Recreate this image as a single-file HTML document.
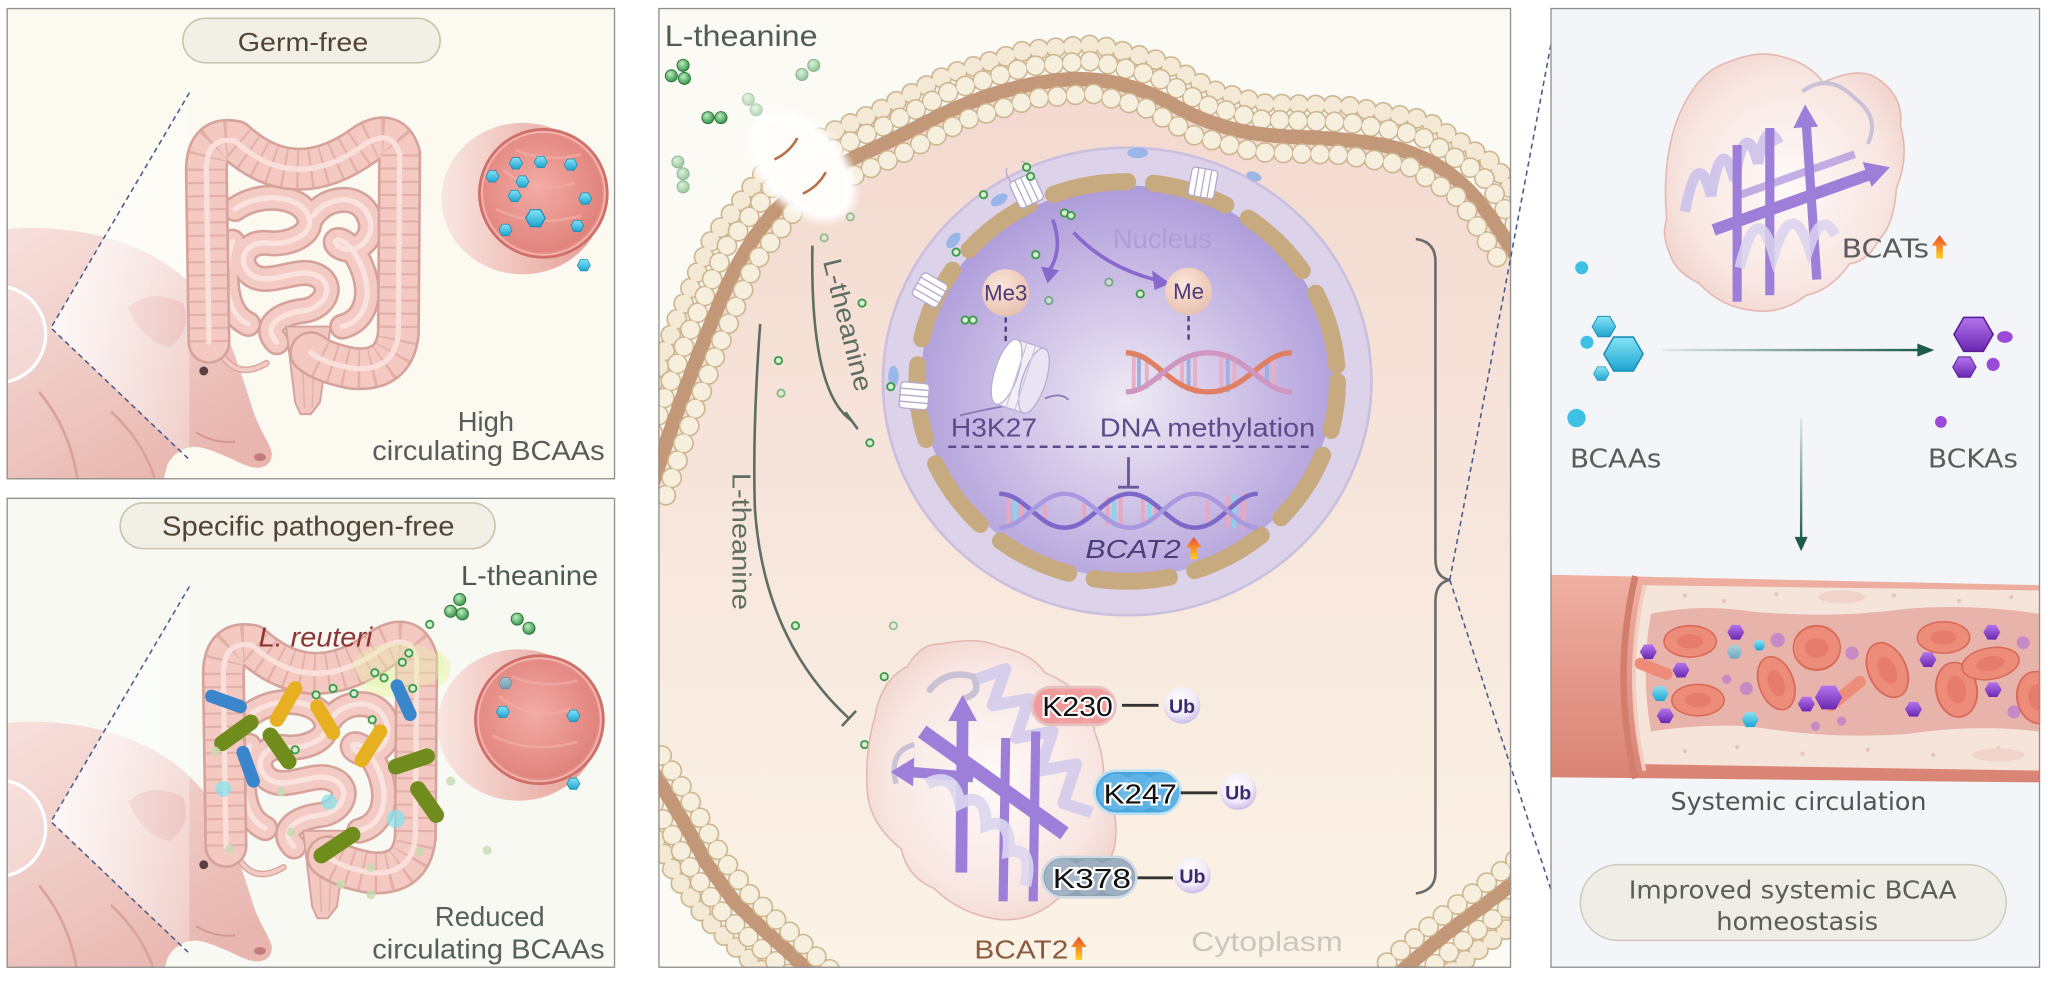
<!DOCTYPE html>
<html><head><meta charset="utf-8"><title>L-theanine and BCAA homeostasis</title>
<style>
html,body{margin:0;padding:0;background:#ffffff;width:2048px;height:981px;overflow:hidden;}
svg{display:block;}
text{font-family:"Liberation Sans",Arial,sans-serif;}
.dv{font-family:"DejaVu Sans","Liberation Sans",sans-serif;}
</style></head><body>
<svg xmlns="http://www.w3.org/2000/svg" width="2048" height="981" viewBox="0 0 1568 751">
<defs>
 <clipPath id="cL1"><rect x="5" y="6" width="466" height="361"/></clipPath>
 <clipPath id="cL2"><rect x="5" y="381" width="466" height="360"/></clipPath>
 <clipPath id="cC"><rect x="504" y="6" width="653" height="735"/></clipPath>
 <clipPath id="cR"><rect x="1187" y="6" width="375" height="735"/></clipPath>
 <filter id="soft" x="-30%" y="-30%" width="160%" height="160%"><feGaussianBlur stdDeviation="3"/></filter>
 <linearGradient id="pigG" x1="0" y1="0" x2="0.6" y2="1"><stop offset="0" stop-color="#f7e1dd"/><stop offset="1" stop-color="#e8b6af"/></linearGradient>
 <linearGradient id="wedgeG" x1="0" y1="0" x2="1" y2="0"><stop offset="0" stop-color="#ffffff" stop-opacity="0.85"/><stop offset="1" stop-color="#ffffff" stop-opacity="0.3"/></linearGradient>
 <radialGradient id="lumG" cx="0.45" cy="0.45" r="0.6"><stop offset="0" stop-color="#f2aca5"/><stop offset="1" stop-color="#e0807a"/></radialGradient>
 <linearGradient id="tubeG" x1="0" y1="0" x2="1" y2="0"><stop offset="0" stop-color="#f9e6e1"/><stop offset="0.5" stop-color="#efc0b8"/><stop offset="1" stop-color="#e49a92"/></linearGradient>
 <linearGradient id="hexCG" x1="0" y1="0" x2="0" y2="1"><stop offset="0" stop-color="#86e4f6"/><stop offset="1" stop-color="#1ea4d0"/></linearGradient>
 <linearGradient id="hexPG" x1="0" y1="0" x2="0" y2="1"><stop offset="0" stop-color="#b275ec"/><stop offset="1" stop-color="#6a28b2"/></linearGradient>
 <radialGradient id="grn" cx="0.4" cy="0.35" r="0.7"><stop offset="0" stop-color="#bdeec0"/><stop offset="1" stop-color="#2f8d45"/></radialGradient>
 <linearGradient id="upA" x1="0" y1="0" x2="0" y2="1"><stop offset="0" stop-color="#ee4a2e"/><stop offset="1" stop-color="#ffd21e"/></linearGradient>
 <linearGradient id="cellG" x1="0" y1="0" x2="0" y2="1"><stop offset="0" stop-color="#f3d9cf"/><stop offset="0.5" stop-color="#f7e6dc"/><stop offset="1" stop-color="#fbf4e6"/></linearGradient>
 <radialGradient id="nucG" cx="0.5" cy="0.55" r="0.55"><stop offset="0" stop-color="#efeaf4"/><stop offset="0.5" stop-color="#cfc3e7"/><stop offset="1" stop-color="#ad9bda"/></radialGradient>
 <radialGradient id="protG" cx="0.5" cy="0.5" r="0.6"><stop offset="0" stop-color="#fefaf8"/><stop offset="0.7" stop-color="#f8e6e2"/><stop offset="1" stop-color="#f0d0c8"/></radialGradient>
 <radialGradient id="meG" cx="0.4" cy="0.35" r="0.7"><stop offset="0" stop-color="#fbe6da"/><stop offset="1" stop-color="#e8c0ae"/></radialGradient>
 <radialGradient id="ubG" cx="0.45" cy="0.35" r="0.7"><stop offset="0" stop-color="#ffffff"/><stop offset="0.6" stop-color="#f1ecf8"/><stop offset="1" stop-color="#c4b2e6"/></radialGradient>
 <linearGradient id="arrH" gradientUnits="userSpaceOnUse" x1="1273" y1="0" x2="1470" y2="0"><stop offset="0" stop-color="#1d5c48" stop-opacity="0.08"/><stop offset="1" stop-color="#1d5c48"/></linearGradient>
 <linearGradient id="arrV" gradientUnits="userSpaceOnUse" x1="0" y1="320" x2="0" y2="415"><stop offset="0" stop-color="#1d5c48" stop-opacity="0.08"/><stop offset="1" stop-color="#1d5c48"/></linearGradient>
 <linearGradient id="wallG" x1="0" y1="0" x2="0" y2="1"><stop offset="0" stop-color="#eeb0a2"/><stop offset="0.5" stop-color="#e4988a"/><stop offset="1" stop-color="#d98373"/></linearGradient>
 <polygon id="hx" points="5,0 2.5,4.33 -2.5,4.33 -5,0 -2.5,-4.33 2.5,-4.33"/>
 <path id="si" d="M180,160 C200,146 230,150 236,165 C242,180 220,188 205,186 C188,184 180,200 192,210 C205,220 226,205 240,210 C258,216 250,236 232,238 C214,240 200,250 212,262 M240,165 C250,150 275,148 282,165 C290,182 272,195 262,190 C250,185 262,175 275,200 C286,222 282,245 262,250 M178,185 C170,210 172,240 190,248"/>
 <path id="colon" d="M160,262 L158,130 Q158,104 180,108 Q226,150 280,110 Q300,98 306,118 L305,255 Q302,285 270,282 Q248,278 238,270"/>
 <g id="gut" fill="none" stroke-linecap="round" stroke-linejoin="round">
  <use href="#si" stroke="#d6a39b" stroke-width="20"/>
  <use href="#si" stroke="#f3cbc4" stroke-width="16"/>
  <use href="#si" stroke="#fae3de" stroke-width="4"/>
  <path d="M219,250 L253,250 L245,308 L238,317 L230,317 L226,308 Z" fill="#f2c7bf" stroke="#d6a39b" stroke-width="1.5"/>
  <path d="M231,258 L233,312 M241,258 L239,312" stroke="#e0b0a8" stroke-width="1"/>
  <path d="M168,268 Q180,292 204,278" stroke="#d9a29b" stroke-width="5"/>
  <path d="M168,268 Q180,292 204,278" stroke="#f3cbc4" stroke-width="3"/>
  <use href="#colon" stroke="#d6a39b" stroke-width="33"/>
  <use href="#colon" stroke="#f3c9c2" stroke-width="29"/>
  <use href="#colon" stroke="#e3b0a8" stroke-width="29" stroke-dasharray="1.6 8.5" stroke-linecap="butt"/>
  <use href="#colon" stroke="#f9e0db" stroke-width="4"/>
 </g>
 <g id="pig">
  <path d="M0,176 C30,172 70,176 100,188 C130,200 150,218 165,240 C178,262 186,290 194,315 C199,330 206,338 208,346 C209,354 203,359 195,358 C187,357 180,352 172,349 C165,346 158,343 150,342 C140,342 132,348 128,356 L124,372 L0,372 Z" fill="url(#pigG)"/>
  <path d="M98,236 Q115,220 140,232 Q148,252 130,266 Q110,262 98,236 Z" fill="#e3a9a5" opacity="0.8"/>
  <circle cx="156" cy="284" r="3.4" fill="#5b3e3e"/>
  <ellipse cx="199" cy="350" rx="4.5" ry="3" fill="#c27c7c"/>
  <path d="M150,331 Q165,340 180,338" stroke="#d49890" stroke-width="1.5" fill="none"/>
  <path d="M30,300 Q55,330 60,372" stroke="#d9a39c" stroke-width="2" fill="none"/>
  <path d="M85,315 Q112,340 120,372" stroke="#d9a39c" stroke-width="2" fill="none"/>
  <path d="M39,251 L145,71 L145,351 Z" fill="url(#wedgeG)"/>
  <path d="M145,71 L39,251 L144,351" stroke="#4c5c8e" stroke-width="1.2" stroke-dasharray="4 3" fill="none"/>
  <circle cx="-2" cy="256" r="37" fill="#ffffff" fill-opacity="0.2" stroke="#ffffff" stroke-width="2.5"/>
 </g>
 <g id="vx">
  <ellipse cx="400" cy="152" rx="62" ry="58" fill="url(#tubeG)"/>
  <circle cx="416" cy="148" r="49" fill="#e58f88" stroke="#cf6f69" stroke-width="2"/>
  <circle cx="416" cy="148" r="45" fill="url(#lumG)"/>
  <circle cx="416" cy="148" r="47" fill="none" stroke="#f3b8b1" stroke-width="1.2"/>
  <path d="M385,130 Q410,150 440,140 M380,160 Q410,175 445,165 M395,115 Q420,125 445,118" stroke="#f2aca6" stroke-width="2" fill="none" opacity="0.7"/>
 </g>
 <g id="gdot"><circle r="2.8" fill="#d6f0d0" stroke="#3a9a4a" stroke-width="1.4"/></g>
 <g id="gmol"><circle r="4.6" fill="url(#grn)" stroke="#2c7a3c" stroke-width="0.8"/></g>
 <g id="rbc"><ellipse rx="20" ry="12" fill="#ee8c7a" stroke="#d86a5a" stroke-width="1.2"/><ellipse rx="10" ry="5.5" fill="#de6f60" opacity="0.55"/></g>
</defs>

<!-- ===== LEFT TOP PANEL ===== -->
<g clip-path="url(#cL1)">
 <rect x="5" y="6" width="466" height="361" fill="#fbf9f0"/>
 <use href="#pig"/>
 <use href="#gut"/>
 <use href="#vx"/>
 <g fill="url(#hexCG)" stroke="#1b8cb5" stroke-width="0.6">
  <use href="#hx" transform="translate(377,135)"/>
  <use href="#hx" transform="translate(395,125)"/>
  <use href="#hx" transform="translate(414,124)"/>
  <use href="#hx" transform="translate(437,126)"/>
  <use href="#hx" transform="translate(400,139)"/>
  <use href="#hx" transform="translate(394,150)"/>
  <use href="#hx" transform="translate(448,152)"/>
  <use href="#hx" transform="translate(410,167) scale(1.5)"/>
  <use href="#hx" transform="translate(387,176)"/>
  <use href="#hx" transform="translate(442,173)"/>
  <use href="#hx" transform="translate(447,203)"/>
 </g>
 <rect x="140" y="14" width="197" height="34" rx="17" fill="#f2f0e6" stroke="#c9c4ae" stroke-width="1.2"/>
 <text x="232" y="39" font-size="20" fill="#524434" text-anchor="middle" textLength="100" lengthAdjust="spacingAndGlyphs">Germ-free</text>
 <text x="372" y="330" font-size="21" fill="#5a5a5a" text-anchor="middle">High</text>
 <text x="285" y="352" font-size="21" fill="#5a5a5a" textLength="178" lengthAdjust="spacingAndGlyphs">circulating BCAAs</text>
</g>
<rect x="5.5" y="6.5" width="465" height="360" fill="none" stroke="#8e8e8e" stroke-width="1"/>

<!-- ===== LEFT BOTTOM PANEL ===== -->
<g clip-path="url(#cL2)">
 <rect x="5" y="381" width="466" height="360" fill="#f7f9f2"/>
 <use href="#pig" transform="translate(0,378)"/>
 <ellipse cx="305" cy="512" rx="40" ry="22" fill="#eaf5b0" opacity="0.6"/>
 <use href="#gut" transform="translate(13,386)"/>
 <ellipse cx="305" cy="510" rx="35" ry="18" fill="#e6f3a8" opacity="0.35"/>
 <use href="#vx" transform="translate(-3,403)"/>
 <g fill="url(#hexCG)" stroke="#1b8cb5" stroke-width="0.6">
  <use href="#hx" transform="translate(387,523)" opacity="0.6"/>
  <use href="#hx" transform="translate(385,545)"/>
  <use href="#hx" transform="translate(439,548)"/>
  <use href="#hx" transform="translate(439,600)"/>
 </g>
 <g stroke-linecap="round" fill="none">
  <g stroke="#e6b020" stroke-width="11">
   <line x1="212" y1="551" x2="226" y2="527"/>
   <line x1="243" y1="541" x2="255" y2="561"/>
   <line x1="277" y1="582" x2="291" y2="560"/>
  </g>
  <g stroke="#3a86cc" stroke-width="10">
   <line x1="162" y1="533" x2="184" y2="541"/>
   <line x1="304" y1="525" x2="314" y2="547"/>
   <line x1="186" y1="576" x2="194" y2="598"/>
  </g>
  <g stroke="#6f8c1c" stroke-width="12">
   <line x1="170" y1="569" x2="192" y2="553"/>
   <line x1="207" y1="563" x2="221" y2="583"/>
   <line x1="303" y1="587" x2="327" y2="579"/>
   <line x1="320" y1="604" x2="334" y2="624"/>
   <line x1="246" y1="655" x2="270" y2="639"/>
  </g>
 </g>
 <g fill="#7fe4f0" opacity="0.7">
  <circle cx="171" cy="604" r="6"/><circle cx="252" cy="614" r="6"/><circle cx="303" cy="627" r="7"/>
 </g>
 <g>
  <use href="#gdot" x="329" y="478"/><use href="#gdot" x="313" y="500"/><use href="#gdot" x="308" y="507"/>
  <use href="#gdot" x="287" y="515"/><use href="#gdot" x="294" y="519"/><use href="#gdot" x="271" y="531"/>
  <use href="#gdot" x="255" y="527"/><use href="#gdot" x="242" y="532"/><use href="#gdot" x="316" y="527"/>
  <use href="#gdot" x="285" y="551"/><use href="#gdot" x="226" y="574"/>
 </g>
 <g fill="#c8dcb0" opacity="0.8">
  <circle cx="165" cy="575" r="3.5"/><circle cx="215" cy="606" r="3.5"/><circle cx="345" cy="598" r="3.5"/>
  <circle cx="373" cy="651" r="3.5"/><circle cx="321" cy="652" r="3.5"/><circle cx="176" cy="650" r="3.5"/>
  <circle cx="223" cy="637" r="3.5"/><circle cx="284" cy="664" r="3.5"/><circle cx="261" cy="677" r="3.5"/><circle cx="284" cy="685" r="3.5"/>
 </g>
 <use href="#gmol" x="345" y="468"/><use href="#gmol" x="352" y="459"/><use href="#gmol" x="354" y="470"/>
 <use href="#gmol" x="396" y="474"/><use href="#gmol" x="405" y="481"/>
 <rect x="92" y="385" width="287" height="35" rx="17.5" fill="#f2f0e6" stroke="#c9c4ae" stroke-width="1.2"/>
 <text x="236" y="410" font-size="21" fill="#524434" text-anchor="middle" textLength="224" lengthAdjust="spacingAndGlyphs">Specific pathogen-free</text>
 <text x="353" y="448" font-size="21" fill="#4d5a50" textLength="105" lengthAdjust="spacingAndGlyphs">L-theanine</text>
 <text x="198" y="495" font-size="21" font-style="italic" fill="#8c3434" textLength="87" lengthAdjust="spacingAndGlyphs">L. reuteri</text>
 <text x="375" y="709" font-size="21" fill="#55605a" text-anchor="middle">Reduced</text>
 <text x="285" y="734" font-size="21" fill="#55605a" textLength="178" lengthAdjust="spacingAndGlyphs">circulating BCAAs</text>
</g>
<rect x="5.5" y="381.5" width="465" height="359" fill="none" stroke="#8e8e8e" stroke-width="1"/>

<!-- ===== CENTER PANEL ===== -->
<g clip-path="url(#cC)">
 <rect x="504" y="6" width="653" height="735" fill="#fcfaf5"/>
 <path d="M498,375 L509,342.5 Q520,310 530.5,282.5 Q541,255 554,225 Q567,195 583.5,173.5 Q600,152 620,139.5 Q640,127 662,117 Q684,107 709.5,93.5 Q735,80 762.5,71.5 Q790,63 813.5,61 Q837,59 858.5,64.5 Q880,70 899.5,81 Q919,92 941,98 Q963,104 996,105 Q1029,106 1055.5,110.5 Q1082,115 1104,129 Q1126,143 1143,169 L1168,207 L1168,668 L1152,681 L1117,707 L1077,740 L1065,755 L628,755 L605,730 L585,712 L562,690 L541,661 L525,632 L506,600 L496,585 Z" fill="url(#cellG)"/>

 <!-- nucleus -->
 <ellipse cx="863" cy="292" rx="188" ry="180" fill="#dcd3ea"/>
 <ellipse cx="863" cy="292" rx="187" ry="179" fill="none" stroke="#cbbfe0" stroke-width="2"/>
 <ellipse cx="863" cy="292" rx="158" ry="150" fill="url(#nucG)"/>
 <ellipse cx="863" cy="292" rx="161" ry="153" fill="none" stroke="#c8aa80" stroke-width="13" stroke-dasharray="58 20" stroke-dashoffset="20" stroke-linecap="round"/>
 <g fill="#8fb0e8" opacity="0.85">
  <ellipse cx="871" cy="117" rx="8" ry="4"/>
  <ellipse cx="765" cy="153" rx="7" ry="4" transform="rotate(-30 765 153)"/>
  <ellipse cx="730" cy="184" rx="7" ry="4" transform="rotate(-50 730 184)"/>
  <ellipse cx="684" cy="288" rx="4" ry="8"/>
  <ellipse cx="960" cy="135" rx="6" ry="3.5" transform="rotate(20 960 135)"/>
 </g>
 <g fill="#ffffff" stroke="#b4a8cc" stroke-width="1">
  <g transform="translate(786,146) rotate(-25)"><rect x="-10" y="-11" width="20" height="22" rx="3"/><path d="M-5,-11 L-5,11 M0,-11 L0,11 M5,-11 L5,11 M-8,-11 Q-10,-20 -6,-22 M8,-11 Q10,-20 6,-22" fill="none"/></g>
  <g transform="translate(921,140) rotate(10)"><rect x="-10" y="-11" width="20" height="22" rx="3"/><path d="M-5,-11 L-5,11 M0,-11 L0,11 M5,-11 L5,11" fill="none"/></g>
  <g transform="translate(712,222) rotate(-60)"><rect x="-10" y="-11" width="20" height="22" rx="3"/><path d="M-5,-11 L-5,11 M0,-11 L0,11 M5,-11 L5,11" fill="none"/></g>
  <g transform="translate(700,303) rotate(-85)"><rect x="-10" y="-11" width="20" height="22" rx="3"/><path d="M-5,-11 L-5,11 M0,-11 L0,11 M5,-11 L5,11" fill="none"/></g>
 </g>
 <text x="852" y="190" font-size="21" fill="#ad9fd6">Nucleus</text>
 <path d="M806,168 Q814,190 804,206" stroke="#8a69cf" stroke-width="2.8" fill="none"/>
 <polygon points="797,204 811,207 802,217" fill="#8a69cf"/>
 <path d="M822,178 Q846,204 884,214" stroke="#8a69cf" stroke-width="2.8" fill="none"/>
 <polygon points="882,207 884,222 896,217" fill="#8a69cf"/>
 <circle cx="770" cy="224" r="18" fill="url(#meG)"/>
 <text x="770" y="230" font-size="17" fill="#4b3b7c" text-anchor="middle">Me3</text>
 <circle cx="910" cy="223" r="18" fill="url(#meG)"/>
 <text x="910" y="229" font-size="17" fill="#4b3b7c" text-anchor="middle">Me</text>
 <path d="M770,243 L770,262 M910,242 L910,262" stroke="#4b3b7c" stroke-width="1.8" stroke-dasharray="4 3"/>
 <path d="M735,318 Q760,312 776,310 M800,305 Q812,300 818,306" stroke="#8a7cb8" stroke-width="1.5" fill="none"/>
 <g transform="translate(784,289) rotate(18)">
  <rect x="-14" y="-26" width="22" height="52" fill="#f2eff7" stroke="#b8aed2"/>
  <ellipse cx="8" cy="0" rx="9" ry="26" fill="#e9e4f3" stroke="#b8aed2"/>
  <ellipse cx="-14" cy="0" rx="9" ry="26" fill="#ffffff" stroke="#b8aed2"/>
  <path d="M-6,-26 L-6,26 M1,-26 L1,26" stroke="#cfc6e2" stroke-width="1"/>
 </g>
 <g stroke-width="3" stroke-linecap="round">
  <path d="M868,270 L868,300 M878,275 L878,296 M888,283 L888,290 M905,278 L905,296 M915,272 L915,300 M935,272 L935,300 M945,275 L945,296 M965,285 L965,290 M975,276 L975,294" stroke="#e8b0c8"/>
  <path d="M872,272 L872,298 M910,275 L910,298 M940,272 L940,299 M970,280 L970,292" stroke="#9fb0e0"/>
 </g>
 <path d="M862,270 C885,270 895,300 925,300 C955,300 965,270 989,270" stroke="#e07f62" stroke-width="4" fill="none"/>
 <path d="M862,300 C885,300 895,270 925,270 C955,270 965,300 989,300" stroke="#cf96c2" stroke-width="4" fill="none"/>
 <text x="728" y="334" font-size="20" fill="#5c4b8c" textLength="66" lengthAdjust="spacingAndGlyphs">H3K27</text>
 <text x="842" y="334" font-size="20" fill="#5c4b8c" textLength="165" lengthAdjust="spacingAndGlyphs">DNA methylation</text>
 <line x1="726" y1="342" x2="1002" y2="342" stroke="#5c4b8c" stroke-width="2" stroke-dasharray="6 4"/>
 <line x1="864" y1="350" x2="864" y2="372" stroke="#6a5a9a" stroke-width="2.2"/>
 <line x1="856" y1="373" x2="872" y2="373" stroke="#6a5a9a" stroke-width="2.2"/>
 <g stroke-width="3" stroke-linecap="round">
  <path d="M772,380 L772,402 M782,385 L782,398 M800,388 L800,396 M830,386 L830,396 M848,382 L848,401 M858,380 L858,403 M875,381 L875,402 M885,386 L885,397 M925,384 L925,400 M940,381 L940,402 M952,379 L952,404" stroke="#e8a8c0"/>
  <path d="M777,382 L777,400 M853,381 L853,402 M880,382 L880,400 M945,380 L945,403" stroke="#8ad6e8"/>
 </g>
 <path d="M765,378 C785,378 795,404 815,404 C835,404 845,378 865,378 C885,378 895,404 915,404 C935,404 945,378 963,378" stroke="#7b68c8" stroke-width="3.5" fill="none"/>
 <path d="M765,404 C785,404 795,378 815,378 C835,378 845,404 865,404 C885,404 895,378 915,378 C935,378 945,404 963,404" stroke="#a898e0" stroke-width="3.5" fill="none"/>
 <text x="831" y="427" font-size="20" font-style="italic" fill="#4a3f7a" textLength="73" lengthAdjust="spacingAndGlyphs">BCAT2</text>
 <polygon points="914,411 920,419 916.5,419 916.5,428 911.5,428 911.5,419 908,419" fill="url(#upA)"/>

 <!-- membranes -->
 <g fill="none" stroke-linecap="round" stroke-linejoin="round">
  <polyline points="474.5,366.75 496.5,301.5 517.75,245.5 545.25,182.5 583,133.75 628.25,105 673,84.5 725.5,57 785,38.5 839,34 889.25,46.75 928.5,69 966.25,79.25 1031.25,81 1091,91.75 1144,125.5 1181,181.25" stroke="#cdb690" stroke-width="16" stroke-dasharray="0 13"/>
  <polyline points="474.5,366.75 496.5,301.5 517.75,245.5 545.25,182.5 583,133.75 628.25,105 673,84.5 725.5,57 785,38.5 839,34 889.25,46.75 928.5,69 966.25,79.25 1031.25,81 1091,91.75 1144,125.5 1181,181.25" stroke="#f3e9d4" stroke-width="13.5" stroke-dasharray="0 13"/>
  <polyline points="486.25,370.9 508.25,305.75 529.4,250.25 556.1,188.75 591.5,142.9 634.1,116 678.5,95.75 730.25,68.5 787.5,50.75 838,46.5 884.6,58.4 923.75,80.5 964.6,91.6 1030.1,93.5 1086.5,103.4 1135,134.25 1170.5,188.1" stroke="#cdb690" stroke-width="16" stroke-dasharray="0 14"/>
  <polyline points="486.25,370.9 508.25,305.75 529.4,250.25 556.1,188.75 591.5,142.9 634.1,116 678.5,95.75 730.25,68.5 787.5,50.75 838,46.5 884.6,58.4 923.75,80.5 964.6,91.6 1030.1,93.5 1086.5,103.4 1135,134.25 1170.5,188.1" stroke="#f7efde" stroke-width="13.5" stroke-dasharray="0 14"/>
  <path id="mTop" d="M498,375 L509,342.5 Q520,310 530.5,282.5 Q541,255 554,225 Q567,195 583.5,173.5 Q600,152 620,139.5 Q640,127 662,117 Q684,107 709.5,93.5 Q735,80 762.5,71.5 Q790,63 813.5,61 Q837,59 858.5,64.5 Q880,70 899.5,81 Q919,92 941,98 Q963,104 996,105 Q1029,106 1055.5,110.5 Q1082,115 1104,129 Q1126,143 1143,169 L1168,207" stroke="#c29878" stroke-width="11"/>
  <use href="#mTop" stroke="#27405f" stroke-width="7" stroke-dasharray="1.2 1.8 1.2 8.8" stroke-linecap="butt"/>
  <polyline points="509.75,379.1 531.75,314.25 552.6,259.75 577.9,201.25 608.5,161.1 645.9,138 689.5,118.25 739.75,91.5 792.5,75.25 836,71.5 875.4,81.6 914.25,103.5 961.4,116.4 1027.9,118.5 1077.5,126.6 1117,151.75 1149.5,201.9" stroke="#cdb690" stroke-width="16" stroke-dasharray="0 14"/>
  <polyline points="509.75,379.1 531.75,314.25 552.6,259.75 577.9,201.25 608.5,161.1 645.9,138 689.5,118.25 739.75,91.5 792.5,75.25 836,71.5 875.4,81.6 914.25,103.5 961.4,116.4 1027.9,118.5 1077.5,126.6 1117,151.75 1149.5,201.9" stroke="#f7efde" stroke-width="13.5" stroke-dasharray="0 14"/>

  <polyline points="474.75,598.25 484.75,613.25 503.75,645.25 519.75,674.25 540.75,703.25 563.75,725.25 583.75,743.25 606.75,765.25" stroke="#cdb690" stroke-width="16" stroke-dasharray="0 13"/>
  <polyline points="474.75,598.25 484.75,613.25 503.75,645.25 519.75,674.25 540.75,703.25 563.75,725.25 583.75,743.25 606.75,765.25" stroke="#f3e9d4" stroke-width="13.5" stroke-dasharray="0 13"/>
  <polyline points="485.4,591.6 495.4,606.6 514.4,638.6 530.4,667.6 551.4,696.6 574.4,718.6 594.4,736.6 617.4,758.6" stroke="#cdb690" stroke-width="16" stroke-dasharray="0 14"/>
  <polyline points="485.4,591.6 495.4,606.6 514.4,638.6 530.4,667.6 551.4,696.6 574.4,718.6 594.4,736.6 617.4,758.6" stroke="#f7efde" stroke-width="13.5" stroke-dasharray="0 14"/>
  <polyline id="mLL" points="496,585 506,600 525,632 541,661 562,690 585,712 605,730 628,752" stroke="#c29878" stroke-width="11"/>
  <use href="#mLL" stroke="#27405f" stroke-width="7" stroke-dasharray="1.2 1.8 1.2 8.8" stroke-linecap="butt"/>
  <polyline points="506.6,578.4 516.6,593.4 535.6,625.4 551.6,654.4 572.6,683.4 595.6,705.4 615.6,723.4 638.6,745.4" stroke="#cdb690" stroke-width="16" stroke-dasharray="0 14"/>
  <polyline points="506.6,578.4 516.6,593.4 535.6,625.4 551.6,654.4 572.6,683.4 595.6,705.4 615.6,723.4 638.6,745.4" stroke="#f7efde" stroke-width="13.5" stroke-dasharray="0 14"/>

  <polyline points="1183.5,687.5 1167.5,700.5 1150.5,713.5 1132.5,726.5 1112.5,742.5 1092.5,759.5" stroke="#cdb690" stroke-width="16" stroke-dasharray="0 13"/>
  <polyline points="1183.5,687.5 1167.5,700.5 1150.5,713.5 1132.5,726.5 1112.5,742.5 1092.5,759.5" stroke="#f3e9d4" stroke-width="13.5" stroke-dasharray="0 13"/>
  <polyline points="1175.75,677.75 1159.75,690.75 1142.75,703.75 1124.75,716.75 1104.75,732.75 1084.75,749.75 1070.75,762.75" stroke="#cdb690" stroke-width="16" stroke-dasharray="0 14"/>
  <polyline points="1175.75,677.75 1159.75,690.75 1142.75,703.75 1124.75,716.75 1104.75,732.75 1084.75,749.75 1070.75,762.75" stroke="#f7efde" stroke-width="13.5" stroke-dasharray="0 14"/>
  <polyline id="mLR" points="1168,668 1152,681 1135,694 1117,707 1097,723 1077,740 1063,753" stroke="#c29878" stroke-width="11"/>
  <use href="#mLR" stroke="#27405f" stroke-width="7" stroke-dasharray="1.2 1.8 1.2 8.8" stroke-linecap="butt"/>
  <polyline points="1160.25,658.25 1144.25,671.25 1127.25,684.25 1109.25,697.25 1089.25,713.25 1069.25,730.25 1055.25,743.25" stroke="#cdb690" stroke-width="16" stroke-dasharray="0 14"/>
  <polyline points="1160.25,658.25 1144.25,671.25 1127.25,684.25 1109.25,697.25 1089.25,713.25 1069.25,730.25 1055.25,743.25" stroke="#f7efde" stroke-width="13.5" stroke-dasharray="0 14"/>
 </g>

 <!-- channel -->
 <g transform="translate(614,127) rotate(47)">
  <ellipse rx="50" ry="31" fill="#ffffff" filter="url(#soft)"/>
  <ellipse rx="42" ry="24" fill="#fffdfa"/>
  <path d="M-18,-12 Q-14,0 -18,12 M16,-10 Q20,2 16,14" stroke="#b5714a" stroke-width="2" fill="none"/>
 </g>

 <use href="#gmol" x="514" y="58"/><use href="#gmol" x="523" y="50"/><use href="#gmol" x="524" y="60"/>
 <g opacity="0.55"><use href="#gmol" x="614" y="57"/><use href="#gmol" x="623" y="50"/></g>
 <use href="#gmol" x="542" y="90"/><use href="#gmol" x="552" y="90"/>
 <g opacity="0.35"><use href="#gmol" x="573" y="76"/><use href="#gmol" x="579" y="84"/></g>
 <g opacity="0.5"><use href="#gmol" x="519" y="124"/><use href="#gmol" x="523" y="133"/><use href="#gmol" x="523" y="143"/></g>
 <g>
  <use href="#gdot" x="651" y="166" opacity="0.5"/><use href="#gdot" x="631" y="182" opacity="0.5"/>
  <use href="#gdot" x="753" y="149"/><use href="#gdot" x="786" y="128"/><use href="#gdot" x="789" y="135"/>
  <use href="#gdot" x="815" y="163"/><use href="#gdot" x="820" y="165"/><use href="#gdot" x="732" y="193"/>
  <use href="#gdot" x="793" y="195"/><use href="#gdot" x="660" y="232"/><use href="#gdot" x="739" y="245"/>
  <use href="#gdot" x="745" y="245"/><use href="#gdot" x="803" y="230" opacity="0.6"/><use href="#gdot" x="849" y="216" opacity="0.6"/>
  <use href="#gdot" x="873" y="225"/><use href="#gdot" x="682" y="296"/><use href="#gdot" x="666" y="339"/>
  <use href="#gdot" x="596" y="276"/><use href="#gdot" x="598" y="301" opacity="0.6"/>
  <use href="#gdot" x="609" y="479"/><use href="#gdot" x="684" y="479" opacity="0.5"/><use href="#gdot" x="723" y="501"/>
  <use href="#gdot" x="677" y="518"/><use href="#gdot" x="699" y="518"/><use href="#gdot" x="662" y="570"/>
 </g>

 <path d="M622,188 Q620,300 652,322" stroke="#5e6e62" stroke-width="2" fill="none"/>
 <line x1="647.3" y1="315.5" x2="656.7" y2="328.5" stroke="#5e6e62" stroke-width="2"/>
 <text transform="translate(630,200) rotate(76)" font-size="20" fill="#5e6e62" textLength="104" lengthAdjust="spacingAndGlyphs">L-theanine</text>
 <path d="M582,248 Q576,330 578,390 Q585,490 650,550" stroke="#5e6e62" stroke-width="2" fill="none"/>
 <line x1="644.6" y1="555.8" x2="655.4" y2="544.2" stroke="#5e6e62" stroke-width="2"/>
 <text transform="translate(561,362) rotate(90)" font-size="20" fill="#5e6e62" textLength="105" lengthAdjust="spacingAndGlyphs">L-theanine</text>

 <!-- BCAT2 protein -->
 <path d="M721,493 Q748,487 765,495 Q790,500 800,515 Q836,530 838,560 Q846,580 845,600 Q858,625 853,650 Q842,680 810,688 Q790,706 765,704 Q735,700 715,680 Q695,672 690,650 Q665,630 664,605 Q662,575 670,548 Q675,520 695,510 Q705,492 721,493 Z" fill="url(#protG)" stroke="#e4b8b0" stroke-width="1.2"/>
 <path d="M712,528 Q725,512 745,518 Q752,530 740,534" stroke="#c8c2d4" stroke-width="5" fill="none" stroke-linecap="round"/>
 <path d="M700,570 Q680,575 686,600" stroke="#c8c2d4" stroke-width="4" fill="none"/>
 <path d="M748,520 L770,512 L760,540 L788,535 L778,565 L806,560 L796,590 L824,585 L814,615 L836,622" stroke="#d3cbec" stroke-width="9" fill="none" stroke-linejoin="round" opacity="0.9"/>
 <g stroke="#9d7fd9" stroke-linecap="butt">
  <line x1="736" y1="668" x2="737" y2="548" stroke-width="9"/>
  <line x1="768" y1="690" x2="770" y2="565" stroke-width="7"/>
  <line x1="791" y1="690" x2="793" y2="560" stroke-width="7"/>
  <line x1="706" y1="560" x2="815" y2="638" stroke-width="11"/>
  <line x1="745" y1="595" x2="697" y2="591" stroke-width="8"/>
 </g>
 <polygon points="737,532 726,552 748,552" fill="#9d7fd9"/>
 <polygon points="682,591 700,580 699,602" fill="#9d7fd9"/>
 <path d="M710,600 Q730,590 735,615 Q755,605 755,632 Q775,625 772,652 Q792,648 785,678" stroke="#dcd6f0" stroke-width="9" fill="none" opacity="0.9"/>
 <rect x="790" y="526" width="64" height="29" rx="14.5" fill="#f3a5a5" stroke="#e5c3c3" stroke-width="2"/>
 <circle cx="805" cy="540.5" r="13" fill="#ee9595" opacity="0.6"/><circle cx="822" cy="540.5" r="13" fill="#ee9595" opacity="0.5"/><circle cx="839" cy="540.5" r="13" fill="#ee9595" opacity="0.5"/>
 <text x="798" y="548" font-size="21" fill="#111" stroke="#ffffff" stroke-width="3" paint-order="stroke" textLength="54" lengthAdjust="spacingAndGlyphs">K230</text>
 <line x1="859" y1="540" x2="887" y2="540" stroke="#333" stroke-width="2.2"/>
 <circle cx="905" cy="540" r="14" fill="url(#ubG)"/>
 <text x="905" y="546" font-size="15" font-weight="bold" fill="#3b2a70" text-anchor="middle">Ub</text>
 <rect x="838" y="590" width="66" height="33" rx="16.5" fill="#4aa6de" stroke="#bfe0f2" stroke-width="2"/>
 <circle cx="855" cy="606.5" r="14" fill="#7cc4ee" opacity="0.5"/><circle cx="872" cy="606.5" r="14" fill="#7cc4ee" opacity="0.4"/><circle cx="889" cy="606.5" r="14" fill="#7cc4ee" opacity="0.4"/>
 <text x="845" y="615" font-size="21" fill="#111" stroke="#ffffff" stroke-width="3" paint-order="stroke" textLength="56" lengthAdjust="spacingAndGlyphs">K247</text>
 <line x1="904" y1="607" x2="932" y2="607" stroke="#333" stroke-width="2.2"/>
 <circle cx="948" cy="606" r="14" fill="url(#ubG)"/>
 <text x="948" y="612" font-size="15" font-weight="bold" fill="#3b2a70" text-anchor="middle">Ub</text>
 <rect x="798" y="656" width="72" height="31" rx="15.5" fill="#8ea2b6" stroke="#d0dae4" stroke-width="2"/>
 <circle cx="814" cy="671.5" r="14" fill="#b6c4d2" opacity="0.5"/><circle cx="834" cy="671.5" r="14" fill="#b6c4d2" opacity="0.4"/><circle cx="854" cy="671.5" r="14" fill="#b6c4d2" opacity="0.4"/>
 <text x="806" y="680" font-size="21" fill="#111" stroke="#ffffff" stroke-width="3" paint-order="stroke" textLength="60" lengthAdjust="spacingAndGlyphs">K378</text>
 <line x1="871" y1="672" x2="898" y2="672" stroke="#333" stroke-width="2.2"/>
 <circle cx="913" cy="670" r="14" fill="url(#ubG)"/>
 <text x="913" y="676" font-size="15" font-weight="bold" fill="#3b2a70" text-anchor="middle">Ub</text>

 <text x="746" y="734" font-size="20" fill="#8b5a3e" textLength="72" lengthAdjust="spacingAndGlyphs">BCAT2</text>
 <polygon points="826,717 832,725 828.5,725 828.5,735 823.5,735 823.5,725 820,725" fill="url(#upA)"/>
 <text x="912" y="728" font-size="21" fill="#ccc6be" textLength="116" lengthAdjust="spacingAndGlyphs">Cytoplasm</text>
 <text x="509" y="35" font-size="23" fill="#4f5d55" textLength="117" lengthAdjust="spacingAndGlyphs">L-theanine</text>
 <path d="M1084,183 Q1099,185 1099,200 L1099,428 Q1099,442 1110,444 Q1099,446 1099,460 L1099,668 Q1099,682 1084,684" stroke="#6b6b6b" stroke-width="2" fill="none"/>
</g>
<rect x="504.5" y="6.5" width="652" height="734" fill="none" stroke="#8e8e8e" stroke-width="1"/>

<path d="M1110,444 L1188,31 M1110,444 L1189,686" stroke="#4a5a8a" stroke-width="1.2" stroke-dasharray="4 3" fill="none"/>

<!-- ===== RIGHT PANEL ===== -->
<g clip-path="url(#cR)">
 <rect x="1187" y="6" width="375" height="735" fill="#f3f5f8"/>
 <path d="M1276,168 Q1272,120 1286,87 Q1300,55 1322,48 Q1345,38 1363,43 Q1385,48 1396,63 Q1420,52 1434,58 Q1458,72 1455,96 Q1462,120 1452,144 Q1450,172 1439,183 Q1430,200 1416,202 Q1402,222 1383,226 Q1365,240 1345,238 Q1318,236 1301,217 Q1282,208 1278,193 Q1272,180 1276,168 Z" fill="url(#protG)" stroke="#e4b8b0" stroke-width="1.2"/>
 <path d="M1380,70 Q1400,55 1420,75 Q1440,90 1430,110" stroke="#c8c2d4" stroke-width="3" fill="none"/>
 <path d="M1290,162 Q1300,110 1310,150 Q1318,100 1328,138 Q1336,88 1346,125 Q1352,90 1362,110" stroke="#cbc2ea" stroke-width="8" fill="none" opacity="0.9"/>
 <g stroke="#9d7fd9" stroke-linecap="butt">
  <line x1="1330" y1="231" x2="1330" y2="111" stroke-width="7"/>
  <line x1="1355" y1="226" x2="1355" y2="98" stroke-width="7"/>
  <line x1="1391" y1="214" x2="1383" y2="96" stroke-width="7"/>
  <line x1="1312" y1="176" x2="1430" y2="134" stroke-width="9"/>
  <line x1="1330" y1="150" x2="1420" y2="118" stroke-width="6" opacity="0.6"/>
 </g>
 <polygon points="1382,80 1373,98 1392,97" fill="#9d7fd9"/>
 <polygon points="1447,128 1426,124 1433,143" fill="#9d7fd9"/>
 <path d="M1332,205 Q1345,150 1358,195 Q1372,150 1385,190 Q1395,160 1405,180" stroke="#d8d2ee" stroke-width="8" fill="none" opacity="0.85"/>
 <text class="dv" x="1410" y="197" font-size="20" fill="#5b5b5b" textLength="67" lengthAdjust="spacingAndGlyphs">BCATs</text>
 <polygon points="1485,180 1491,188 1487.5,188 1487.5,198 1482.5,198 1482.5,188 1479,188" fill="url(#upA)"/>
 <g fill="url(#hexCG)" stroke="#1b8cb5" stroke-width="0.4">
  <use href="#hx" transform="translate(1243,271) scale(3)"/>
  <use href="#hx" transform="translate(1228,250) scale(1.8)"/>
  <use href="#hx" transform="translate(1226,286) scale(1.2)"/>
 </g>
 <g fill="#3cc0e4"><circle cx="1211" cy="205" r="5"/><circle cx="1215" cy="262" r="5"/><circle cx="1207" cy="320" r="7"/></g>
 <g fill="url(#hexPG)" stroke="#5a1e9a" stroke-width="0.4">
  <use href="#hx" transform="translate(1511,256) scale(3)"/>
  <use href="#hx" transform="translate(1504,281) scale(1.8)"/>
 </g>
 <g fill="#9a4ad8"><ellipse cx="1535" cy="258" rx="6" ry="4.5"/><circle cx="1526" cy="279" r="5"/><circle cx="1486" cy="323" r="4.5"/></g>
 <line x1="1273" y1="268" x2="1470" y2="268" stroke="url(#arrH)" stroke-width="1.8"/>
 <polygon points="1468,263 1481,268 1468,273" fill="#1d5c48"/>
 <line x1="1379" y1="320" x2="1379" y2="412" stroke="url(#arrV)" stroke-width="1.8"/>
 <polygon points="1374,411 1384,411 1379,422" fill="#1d5c48"/>
 <text class="dv" x="1202" y="358" font-size="20" fill="#5b5b5b" textLength="70" lengthAdjust="spacingAndGlyphs">BCAAs</text>
 <text class="dv" x="1476" y="358" font-size="20" fill="#5b5b5b" textLength="69" lengthAdjust="spacingAndGlyphs">BCKAs</text>
 <path d="M1187,440 L1562,448 L1562,599 L1187,595 Z" fill="url(#wallG)"/>
 <path d="M1258,448 L1562,452 L1562,590 L1258,585 Q1244,516 1258,448 Z" fill="#f5e4da"/>
 <path d="M1264,470 Q1300,462 1340,468 Q1400,474 1460,466 Q1510,462 1562,470 L1562,560 Q1510,554 1460,562 Q1400,566 1340,556 Q1300,554 1264,560 Q1256,515 1264,470 Z" fill="#e8b3aa"/>
 <g fill="#e8c3b8">
  <circle cx="1290" cy="456" r="1.6"/><circle cx="1320" cy="460" r="1.6"/><circle cx="1360" cy="455" r="1.6"/><circle cx="1410" cy="458" r="1.6"/><circle cx="1450" cy="456" r="1.6"/><circle cx="1500" cy="460" r="1.6"/><circle cx="1540" cy="457" r="1.6"/>
  <circle cx="1290" cy="575" r="1.6"/><circle cx="1330" cy="572" r="1.6"/><circle cx="1380" cy="577" r="1.6"/><circle cx="1430" cy="574" r="1.6"/><circle cx="1480" cy="578" r="1.6"/><circle cx="1530" cy="573" r="1.6"/>
 </g>
 <ellipse cx="1410" cy="457" rx="18" ry="5" fill="#f0d4cb"/>
 <ellipse cx="1530" cy="578" rx="20" ry="5" fill="#f0d4cb"/>
 <path d="M1252,441 Q1234,518 1252,596" stroke="#d27e6d" stroke-width="5" fill="none"/>
 <path d="M1259,448 Q1243,518 1259,590" stroke="#f1cdc2" stroke-width="3" fill="none"/>
 <use href="#rbc" transform="translate(1294,491)"/>
 <use href="#rbc" transform="translate(1300,536)"/>
 <use href="#rbc" transform="translate(1391,496) scale(0.9,1.4)"/>
 <use href="#rbc" transform="translate(1360,523) rotate(70) scale(1.05,1.1)"/>
 <use href="#rbc" transform="translate(1445,513) rotate(65) scale(1.1,1.2)"/>
 <use href="#rbc" transform="translate(1488,488)"/>
 <use href="#rbc" transform="translate(1498,528) rotate(80) scale(1.05,1.3)"/>
 <use href="#rbc" transform="translate(1524,508) rotate(-10) scale(1.1,1)"/>
 <use href="#rbc" transform="translate(1560,534) rotate(80) scale(1,1.3)"/>
 <line x1="1256" y1="508" x2="1276" y2="516" stroke="#ee8c7a" stroke-width="9" stroke-linecap="round"/>
 <line x1="1402" y1="540" x2="1424" y2="522" stroke="#ee8c7a" stroke-width="9" stroke-linecap="round"/>
 <g fill="url(#hexPG)">
  <use href="#hx" transform="translate(1262,499) scale(1.3)"/>
  <use href="#hx" transform="translate(1287,513) scale(1.3)"/>
  <use href="#hx" transform="translate(1275,548) scale(1.3)"/>
  <use href="#hx" transform="translate(1329,484) scale(1.3)"/>
  <use href="#hx" transform="translate(1383,539) scale(1.3)"/>
  <use href="#hx" transform="translate(1400,534) scale(2.1)"/>
  <use href="#hx" transform="translate(1476,505) scale(1.3)"/>
  <use href="#hx" transform="translate(1465,543) scale(1.3)"/>
  <use href="#hx" transform="translate(1525,484) scale(1.3)"/>
  <use href="#hx" transform="translate(1526,528) scale(1.3)"/>
 </g>
 <g fill="#b070d8" opacity="0.6">
  <circle cx="1361" cy="490" r="5.5"/><circle cx="1322" cy="520" r="3.5"/><circle cx="1337" cy="527" r="5"/><circle cx="1418" cy="500" r="5"/>
  <circle cx="1390" cy="556" r="3.5"/><circle cx="1410" cy="552" r="3.5"/><circle cx="1549" cy="492" r="5"/><circle cx="1542" cy="545" r="5"/>
 </g>
 <g fill="url(#hexCG)">
  <use href="#hx" transform="translate(1328,499) scale(1.2)" opacity="0.6"/>
  <use href="#hx" transform="translate(1347,494) scale(0.9)"/>
  <use href="#hx" transform="translate(1271,531) scale(1.3)"/>
  <use href="#hx" transform="translate(1340,551) scale(1.3)"/>
 </g>
 <text class="dv" x="1279" y="620" font-size="19" fill="#4e5650" textLength="196" lengthAdjust="spacingAndGlyphs">Systemic circulation</text>
 <rect x="1210" y="662" width="326" height="58" rx="29" fill="#eeeee6" stroke="#cfccbf" stroke-width="1.2"/>
 <text class="dv" x="1247" y="688" font-size="19" fill="#5b5d57" textLength="251" lengthAdjust="spacingAndGlyphs">Improved systemic BCAA</text>
 <text class="dv" x="1314" y="712" font-size="19" fill="#5b5d57" textLength="124" lengthAdjust="spacingAndGlyphs">homeostasis</text>
</g>
<rect x="1187.5" y="6.5" width="374" height="734" fill="none" stroke="#8e8e8e" stroke-width="1"/>
</svg>
</body></html>
